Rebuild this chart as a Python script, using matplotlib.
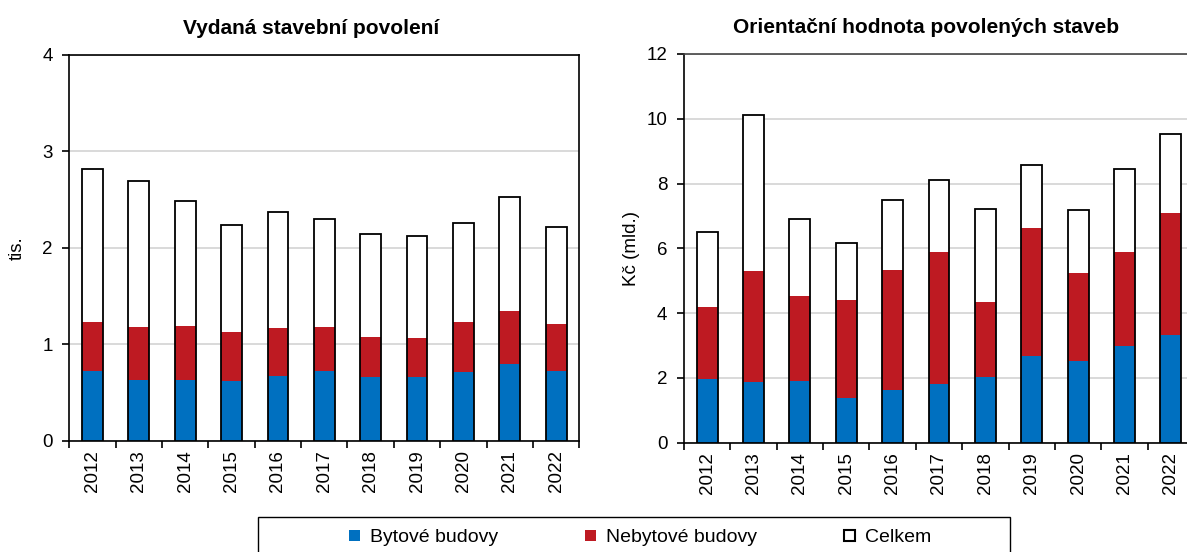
import numpy as np
import matplotlib.pyplot as plt
from matplotlib.patches import Patch, Rectangle

plt.rcParams['font.family'] = ['Liberation Sans', 'DejaVu Sans']

years = ['2012', '2013', '2014', '2015', '2016', '2017', '2018', '2019', '2020', '2021', '2022']

# Vydana stavebni povoleni (tis.)
pov_bytove = [0.72, 0.63, 0.63, 0.62, 0.67, 0.72, 0.66, 0.66, 0.71, 0.80, 0.72]
pov_nebytove = [0.51, 0.55, 0.56, 0.51, 0.50, 0.46, 0.42, 0.41, 0.52, 0.55, 0.49]
pov_celkem = [2.82, 2.69, 2.49, 2.24, 2.37, 2.30, 2.14, 2.12, 2.26, 2.53, 2.22]

# Orientacni hodnota (Kc mld.)
hod_bytove = [1.96, 1.88, 1.90, 1.38, 1.62, 1.80, 2.04, 2.69, 2.53, 3.00, 3.31]
hod_nebytove = [2.22, 3.43, 2.62, 3.02, 3.72, 4.08, 2.29, 3.93, 2.72, 2.89, 3.79]
hod_celkem = [6.49, 10.12, 6.92, 6.17, 7.49, 8.12, 7.20, 8.58, 7.18, 8.44, 9.53]

blue = '#0070c0'
red = '#be1a22'
W, H = 1187, 552

fig = plt.figure(figsize=(W / 100, H / 100), dpi=100)
ax1 = fig.add_axes([69.3 / W, (H - 440.7) / H, 510 / W, 385.7 / H])
ax2 = fig.add_axes([684 / W, (H - 442.7) / H, 510 / W, 388.7 / H])


def draw(ax, byt, nebyt, celk, ymax, step, title, ylabel, lpad):
    x = np.arange(len(years))
    w = 0.45
    ax.bar(x, celk, w, color='white', zorder=2)
    ax.bar(x, byt, w, color=blue, zorder=3)
    ax.bar(x, nebyt, w, bottom=byt, color=red, zorder=3)
    ax.bar(x, celk, w, facecolor='none', edgecolor='black', linewidth=1.3, zorder=4)
    ax.set_xlim(-0.5, len(years) - 0.5)
    ax.set_ylim(0, ymax)
    ax.set_yticks(np.arange(0, ymax + step / 2, step))
    ax.set_xticks(x)
    ax.set_xticklabels(years, rotation=90)
    ax.set_xticks(np.arange(-0.5, len(years)), minor=True)
    ax.tick_params(axis='x', which='major', length=0, labelsize=13.5, pad=7)
    ax.tick_params(axis='x', which='minor', length=5, width=1.2)
    ax.tick_params(axis='y', length=5, width=1.2, labelsize=13.5, pad=7)
    ax.yaxis.grid(True, color='#cfcfcf', linewidth=1.1, zorder=0)
    ax.set_axisbelow(True)
    for s in ax.spines.values():
        s.set_linewidth(1.2)
    ax.set_ylabel(ylabel, fontsize=13.5, labelpad=lpad)
    ax.set_title(title, fontsize=15, fontweight='bold', pad=15, x=0.475)


draw(ax1, pov_bytove, pov_nebytove, pov_celkem, 4, 1,
     'Vydaná stavební povolení', 'tis.', 12)
draw(ax2, hod_bytove, hod_nebytove, hod_celkem, 12, 2,
     'Orientační hodnota povolených staveb', 'Kč (mld.)', 5)
ax2.spines['top'].set_color('#444444')

# legend box
fig.patches.append(Rectangle((258 / W, -0.05), (1010 - 258) / W, 0.05 + (H - 517) / H,
                             transform=fig.transFigure, facecolor='white',
                             edgecolor='black', linewidth=1.0))
handles = [Patch(facecolor=blue), Patch(facecolor=red),
           Patch(facecolor='white', edgecolor='black', linewidth=1.5)]
fig.legend(handles, ['Bytové budovy', 'Nebytové budovy', 'Celkem'],
           loc='center', bbox_to_anchor=(640 / W, (H - 538) / H), ncol=3,
           frameon=False, fontsize=14, handlelength=0.55, handleheight=0.55,
           handletextpad=0.5, columnspacing=4.5)

fig.savefig('out.png', dpi=100)
